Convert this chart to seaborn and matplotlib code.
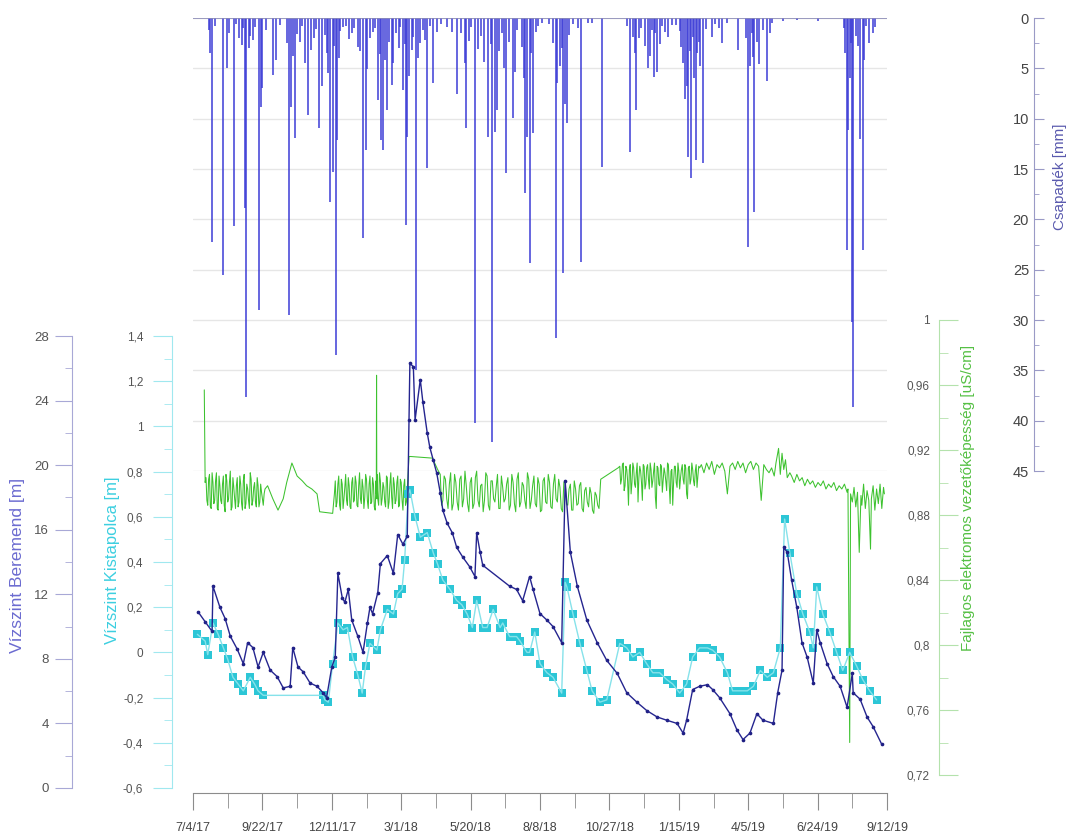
import numpy as np
import pandas as pd
import matplotlib
matplotlib.use('Agg')
import matplotlib.pyplot as plt
import seaborn as sns
from matplotlib.ticker import MultipleLocator, FuncFormatter

# ---- data (days counted from 2017-07-04)
start = pd.Timestamp('2017-07-04')
x_labels = ["7/4/17", "9/22/17", "12/11/17", "3/1/18", "5/20/18", "8/8/18",
            "10/27/18", "1/15/19", "4/5/19", "6/24/19", "9/12/19"]

# Csapadek [mm] - larger events
rain_day = [22, 35, 39, 47, 56, 60, 61, 76, 78, 80,
            92, 96, 111, 113, 118, 123, 133, 136, 145, 149,
            154, 158, 161, 165, 166, 173, 183, 190, 196, 199,
            210, 213, 217, 219, 224, 229, 231, 242, 246, 247,
            252, 257, 262, 270, 277, 293, 299, 304, 314, 315,
            325, 340, 345, 348, 350, 361, 369, 371, 383, 385,
            388, 392, 402, 418, 423, 427, 431, 447, 455, 471,
            504, 507, 511, 524, 531, 533, 535, 548, 552, 565,
            569, 571, 574, 576, 580, 581, 588, 598, 610, 628,
            640, 646, 647, 662, 665, 696, 754, 755, 760, 761,
            772, 773, 784]
rain_mm = [22.3, 25.5, 5.0, 20.7, 2.7, 18.9, 37.6, 29.0, 8.8, 7.0,
           5.7, 4.2, 29.5, 8.8, 11.9, 2.4, 9.6, 3.2, 10.9, 6.8,
           3.5, 18.3, 15.3, 33.5, 12.1, 0.9, 1.5, 2.9, 21.9, 13.1,
           1.0, 8.1, 12.1, 13.1, 9.1, 6.7, 4.5, 7.2, 20.6, 11.8,
           3.2, 35.0, 2.5, 14.9, 6.5, 0.9, 1.4, 7.5, 4.5, 10.9,
           40.2, 11.8, 42.1, 11.3, 9.1, 15.4, 9.9, 5.4, 17.4, 11.8,
           24.3, 11.4, 0.5, 31.8, 4.8, 25.3, 10.4, 24.2, 0.5, 14.8,
           13.3, 1.9, 9.1, 5.0, 5.9, 1.5, 5.4, 1.9, 0.7, 4.5,
           6.8, 13.8, 15.9, 1.9, 14.1, 3.5, 14.4, 1.9, 2.5, 3.2,
           22.7, 3.9, 19.3, 6.3, 1.5, 0.2, 23.0, 11.1, 30.2, 38.6,
           23.0, 4.2, 1.5]
# small daily amounts
rain_day_small = [18, 20, 25, 41, 50, 53, 58, 64, 66, 69,
                  72, 84, 100, 108, 115, 120, 126, 129, 139, 142,
                  152, 156, 163, 168, 170, 176, 180, 186, 193, 201,
                  204, 207, 215, 221, 226, 234, 237, 239, 244, 249,
                  254, 259, 265, 267, 273, 281, 286, 309, 318, 321,
                  328, 332, 336, 343, 353, 356, 358, 364, 374, 379,
                  381, 390, 395, 398, 410, 415, 420, 425, 429, 433,
                  438, 444, 460, 500, 509, 514, 517, 521, 527, 529,
                  538, 541, 544, 557, 561, 563, 567, 573, 578, 583,
                  585, 591, 602, 606, 615, 637, 642, 644, 650, 653,
                  657, 668, 680, 720, 750, 752, 757, 758, 764, 766,
                  769, 776, 779, 786]
rain_mm_small = [1.2, 3.5, 0.8, 1.5, 0.6, 2.0, 1.0, 3.0, 1.8, 2.2,
                 0.9, 1.2, 0.7, 2.5, 3.8, 1.6, 0.8, 4.5, 2.0, 1.1,
                 1.7, 5.5, 2.8, 4.0, 1.3, 0.8, 2.1, 1.0, 3.3, 5.1,
                 2.0, 1.4, 3.6, 4.2, 2.4, 1.5, 3.0, 0.9, 2.6, 5.8,
                 1.9, 4.0, 1.2, 2.2, 0.8, 1.4, 0.6, 1.5, 2.3, 0.9,
                 3.1, 1.8, 4.4, 2.6, 3.3, 1.5, 5.0, 2.4, 1.2, 2.9,
                 6.0, 3.5, 1.4, 0.8, 0.6, 2.5, 6.5, 3.0, 8.5, 1.7,
                 0.6, 1.0, 0.5, 0.8, 3.5, 2.0, 1.0, 2.8, 3.8, 1.2,
                 2.6, 0.8, 1.4, 0.7, 1.3, 2.9, 8.0, 3.3, 6.0, 2.4,
                 4.8, 1.1, 0.6, 1.0, 0.5, 2.0, 4.8, 1.5, 2.4, 4.6,
                 1.2, 0.5, 0.3, 0.3, 1.0, 3.5, 6.0, 2.5, 1.8, 2.8,
                 12.0, 0.8, 2.5, 0.9]

# Vizszint Beremend [m]
ber_day = [6, 14, 22, 23, 31, 37, 43, 51, 58, 63,
           69, 75, 81, 89, 97, 104, 112, 115, 121, 127,
           135, 143, 150, 154, 160, 164, 167, 172, 175, 179,
           183, 190, 196, 201, 204, 207, 213, 216, 224, 231,
           236, 242, 247, 249, 250, 254, 256, 262, 265, 270,
           273, 277, 281, 285, 288, 293, 299, 304, 311, 319,
           325, 327, 331, 334, 365, 373, 380, 388, 392, 400,
           408, 415, 425, 429, 435, 443, 454, 466, 477, 489,
           500, 512, 523, 535, 546, 558, 565, 569, 576, 584,
           593, 599, 607, 619, 627, 634, 642, 650, 657, 669,
           674, 679, 681, 685, 690, 696, 702, 708, 715, 719,
           723, 731, 738, 746, 754, 760, 761, 769, 777, 784,
           794]
ber_val = [10.9, 10.3, 9.7, 12.5, 11.2, 10.5, 9.4, 8.6, 7.7, 9.0,
           8.7, 7.5, 8.4, 7.3, 6.9, 6.2, 6.3, 8.7, 7.5, 7.2,
           6.5, 6.3, 5.9, 5.6, 7.5, 8.1, 13.3, 11.8, 11.5, 12.3,
           10.4, 9.4, 8.4, 10.2, 11.2, 10.8, 12.1, 13.9, 14.4, 13.3,
           15.7, 15.1, 15.6, 22.8, 26.3, 26.1, 22.8, 25.3, 23.9, 22.0,
           21.1, 20.3, 19.5, 18.3, 17.2, 16.4, 15.8, 14.9, 14.3, 13.7,
           13.1, 15.8, 14.6, 13.8, 12.5, 12.3, 11.6, 13.1, 12.3, 10.8,
           10.4, 10.0, 9.0, 19.0, 14.6, 12.5, 10.4, 9.0, 7.9, 7.1,
           5.9, 5.3, 4.8, 4.4, 4.2, 4.0, 3.4, 4.2, 6.1, 6.3,
           6.4, 6.1, 5.6, 4.6, 3.6, 3.0, 3.4, 4.6, 4.2, 4.0,
           5.9, 7.3, 14.9, 14.6, 12.9, 11.2, 9.0, 8.1, 6.5, 9.8,
           9.0, 7.7, 6.9, 6.3, 5.0, 7.1, 5.9, 5.5, 4.4, 3.8,
           2.7]

# Vizszint Kistapolca [m]
kis_day = [5, 14, 17, 23, 29, 35, 40, 46, 52, 58,
           66, 71, 75, 81, 150, 152, 156, 161, 167, 173,
           178, 184, 190, 195, 199, 204, 212, 216, 224, 231,
           236, 241, 244, 248, 250, 256, 262, 270, 277, 282,
           288, 296, 304, 310, 316, 322, 327, 334, 339, 346,
           354, 357, 365, 373, 377, 385, 388, 394, 400, 408,
           415, 425, 429, 431, 438, 446, 454, 460, 469, 477,
           492, 500, 507, 515, 523, 530, 538, 546, 553, 561,
           569, 576, 584, 593, 599, 607, 616, 622, 631, 639,
           646, 654, 662, 669, 677, 682, 688, 696, 703, 711,
           715, 719, 726, 734, 742, 749, 757, 765, 772, 780,
           788]
kis_val = [0.08, 0.05, -0.01, 0.13, 0.08, 0.02, -0.03, -0.11, -0.14, -0.17,
           -0.11, -0.14, -0.17, -0.19, -0.19, -0.21, -0.22, -0.05, 0.13, 0.10,
           0.11, -0.02, -0.10, -0.18, -0.06, 0.04, 0.01, 0.10, 0.19, 0.17,
           0.26, 0.28, 0.41, 0.70, 0.72, 0.60, 0.51, 0.53, 0.44, 0.39,
           0.32, 0.28, 0.23, 0.21, 0.17, 0.11, 0.23, 0.11, 0.11, 0.19,
           0.11, 0.13, 0.07, 0.07, 0.05, 0.00, 0.00, 0.09, -0.05, -0.09,
           -0.11, -0.18, 0.31, 0.29, 0.17, 0.04, -0.08, -0.17, -0.22, -0.21,
           0.04, 0.02, -0.02, 0.00, -0.05, -0.09, -0.09, -0.12, -0.14, -0.18,
           -0.14, -0.02, 0.02, 0.02, 0.01, -0.02, -0.09, -0.17, -0.17, -0.17,
           -0.15, -0.08, -0.11, -0.09, 0.02, 0.59, 0.44, 0.26, 0.17, 0.09,
           0.02, 0.29, 0.17, 0.09, 0.00, -0.08, 0.00, -0.06, -0.12, -0.17,
           -0.21]

# Fajlagos elektromos vezetokepesseg - pieces of the record
cond_start_day = [13, 14]
cond_start_val = [0.957, 0.900]
cond_a = [0.903, 0.886, 0.905, 0.884, 0.900, 0.889, 0.906, 0.883, 0.898, 0.887,
          0.904, 0.882, 0.901, 0.890, 0.907, 0.885, 0.897, 0.884, 0.903, 0.888,
          0.899, 0.883, 0.905, 0.887, 0.896, 0.884, 0.902, 0.889, 0.900, 0.885,
          0.898, 0.888, 0.894, 0.886, 0.896]           # days 15-83
cond_a_mid = [0.889, 0.902, 0.885, 0.906, 0.887, 0.901, 0.884, 0.904, 0.889, 0.899,
              0.886, 0.905, 0.888, 0.900, 0.883, 0.903, 0.890, 0.898, 0.885, 0.904,
              0.887, 0.901, 0.884, 0.899, 0.889, 0.906, 0.886, 0.897, 0.888, 0.903,
              0.885, 0.899, 0.890, 0.893]               # days 16-82
cond_b_day = [86, 92, 98, 104, 108, 114, 120, 126, 131, 137, 143, 146, 161]
cond_b_val = [0.898, 0.890, 0.883, 0.890, 0.900, 0.912, 0.904, 0.901, 0.898,
              0.896, 0.893, 0.882, 0.881]
cond_c = [0.893, 0.885, 0.899, 0.886, 0.902, 0.884, 0.897, 0.889, 0.903, 0.885,
          0.900, 0.888, 0.904, 0.886, 0.898, 0.890, 0.902, 0.884, 0.905, 0.889,
          0.899, 0.887, 0.903, 0.885, 0.901, 0.890, 0.906, 0.886, 0.900, 0.888,
          0.904, 0.884, 0.899, 0.891, 0.903, 0.887, 0.900, 0.885, 0.902, 0.889,
          0.898, 0.886, 0.896]                          # days 163-247
cond_c_mid = [0.901, 0.888, 0.904, 0.883, 0.899, 0.890, 0.905, 0.886, 0.898, 0.884,
              0.903, 0.889, 0.900, 0.885, 0.906, 0.887, 0.897, 0.891, 0.902, 0.884,
              0.904, 0.888, 0.899, 0.883, 0.905, 0.886, 0.901, 0.890, 0.897, 0.885,
              0.903, 0.888, 0.906, 0.884, 0.899, 0.889, 0.904, 0.886, 0.900, 0.883,
              0.902, 0.888]                             # days 164-246
cond_spike_day = [211.3, 211.6, 211.9]
cond_spike_val = [0.893, 0.966, 0.890]
cond_d_day = [249, 251, 276, 282]
cond_d_val = [0.916, 0.916, 0.915, 0.908]
cond_e = [0.905, 0.889, 0.902, 0.884, 0.906, 0.887, 0.900, 0.883, 0.904, 0.890,
          0.898, 0.882, 0.903, 0.887, 0.907, 0.885, 0.899, 0.889, 0.904, 0.883,
          0.901, 0.888, 0.905, 0.884, 0.897, 0.890, 0.903, 0.886, 0.900, 0.882,
          0.906, 0.888, 0.898, 0.884, 0.902, 0.889, 0.904, 0.885, 0.899, 0.883,
          0.903, 0.887, 0.900, 0.884, 0.905, 0.888, 0.897, 0.882, 0.901, 0.886,
          0.899, 0.883, 0.896, 0.887, 0.900, 0.882, 0.897, 0.885, 0.893, 0.881,
          0.892, 0.884]                                 # days 285-468
cond_e_mid = [0.886, 0.904, 0.890, 0.899, 0.883, 0.905, 0.888, 0.902, 0.885, 0.907,
              0.887, 0.900, 0.884, 0.903, 0.889, 0.898, 0.882, 0.906, 0.886, 0.901,
              0.890, 0.897, 0.884, 0.904, 0.888, 0.899, 0.883, 0.905, 0.887, 0.902,
              0.885, 0.900, 0.889, 0.906, 0.884, 0.898, 0.887, 0.903, 0.882, 0.901,
              0.888, 0.905, 0.885, 0.899, 0.890, 0.902, 0.884, 0.900, 0.887, 0.896,
              0.883, 0.901, 0.886, 0.898, 0.884, 0.895, 0.888, 0.897, 0.883, 0.894,
              0.886]                                    # days 286.5-466.5
cond_f_day = [470, 490]
cond_f_val = [0.902, 0.909]
cond_g = [0.910, 0.902, 0.912, 0.898, 0.908, 0.886, 0.911, 0.900, 0.909, 0.897,
          0.912, 0.903, 0.907, 0.889, 0.910, 0.899, 0.911, 0.896, 0.908, 0.901,
          0.912, 0.884, 0.909, 0.898, 0.910, 0.902, 0.906, 0.895, 0.911, 0.887,
          0.908, 0.900, 0.910, 0.897, 0.907, 0.903, 0.911, 0.899, 0.909, 0.890,
          0.910, 0.902, 0.908, 0.898, 0.911, 0.904, 0.909]   # days 492-584
cond_g_mid = [0.899, 0.911, 0.895, 0.910, 0.901, 0.908, 0.893, 0.912, 0.899, 0.906,
              0.888, 0.910, 0.900, 0.911, 0.896, 0.909, 0.902, 0.912, 0.897, 0.907,
              0.891, 0.910, 0.899, 0.911, 0.894, 0.909, 0.901, 0.912, 0.898, 0.907,
              0.886, 0.910, 0.900, 0.912, 0.896, 0.908, 0.902, 0.911, 0.893, 0.909,
              0.899, 0.912, 0.901, 0.907, 0.897, 0.910]  # days 493-583
cond_h = [0.911, 0.906, 0.912, 0.908, 0.913, 0.905, 0.911, 0.909, 0.912, 0.907,
          0.893, 0.910, 0.912, 0.908, 0.913, 0.909, 0.912, 0.906, 0.911, 0.913,
          0.908, 0.912, 0.910, 0.889, 0.911, 0.908, 0.906, 0.909, 0.904]  # 586-670
cond_i_day = [672, 675, 677, 679, 681, 683, 685, 688]
cond_i_val = [0.912, 0.921, 0.905, 0.918, 0.908, 0.914, 0.903, 0.906]
cond_j = [0.904, 0.900, 0.905, 0.901, 0.903, 0.898, 0.902, 0.899, 0.901, 0.897,
          0.900, 0.898, 0.901, 0.896, 0.899, 0.897, 0.900, 0.895, 0.898, 0.896,
          0.899, 0.894]                                 # days 690-754
cond_k_day = [755, 757, 758, 760, 762, 764, 766, 768, 770, 771, 773, 775,
              777, 779, 781, 782, 784, 786, 788, 790, 792, 794, 796, 797]
cond_k_val = [0.896, 0.740, 0.893, 0.888, 0.897, 0.885, 0.894, 0.857, 0.892,
              0.886, 0.899, 0.884, 0.895, 0.889, 0.859, 0.890, 0.898, 0.883,
              0.896, 0.887, 0.899, 0.884, 0.897, 0.893]


def spread(first, last, values):
    return list(np.linspace(first, last, len(values)))


cond_days = (cond_start_day + spread(15, 83, cond_a) + spread(16, 82, cond_a_mid)
             + cond_b_day + spread(163, 247, cond_c) + spread(164, 246, cond_c_mid)
             + cond_spike_day + cond_d_day + spread(285, 468, cond_e)
             + spread(286.5, 466.5, cond_e_mid) + cond_f_day
             + spread(492, 584, cond_g) + spread(493, 583, cond_g_mid)
             + spread(586, 670, cond_h) + cond_i_day
             + spread(690, 754, cond_j) + cond_k_day)
cond_vals = (cond_start_val + cond_a + cond_a_mid + cond_b_val + cond_c + cond_c_mid
             + cond_spike_val + cond_d_val + cond_e + cond_e_mid + cond_f_val
             + cond_g + cond_g_mid + cond_h + cond_i_val + cond_j + cond_k_val)
df_cond = pd.DataFrame({'day': cond_days, 'val': cond_vals}).sort_values('day', kind='stable')
df_ber = pd.DataFrame({'day': ber_day, 'val': ber_val})
df_kis = pd.DataFrame({'day': kis_day, 'val': kis_val})

tick_days = [(pd.to_datetime(s, format='%m/%d/%y') - start).days for s in x_labels]

# ---- figure
sns.set_style('ticks')
plt.rcParams['font.family'] = ['Liberation Sans', 'DejaVu Sans']

W, H = 1071, 834
fig = plt.figure(figsize=(W / 100, H / 100), dpi=100)


def box(x0, y0, x1, y1):
    return [x0 / W, 1 - y1 / H, (x1 - x0) / W, (y1 - y0) / H]


X0, X1 = 193, 887
ax_p = fig.add_axes(box(X0, 18, X1, 471))
ax_c = fig.add_axes(box(X0, 320, X1, 775))
ax_k = fig.add_axes(box(X0, 336, X1, 788))
ax_b = fig.add_axes(box(X0, 336, X1, 788))


def comma(v, pos=None):
    v = round(v, 4) + 0.0
    return f'{v:g}'.replace('.', ',')


# precipitation (hanging bars)
ax_p.vlines(rain_day + rain_day_small, 0, rain_mm + rain_mm_small, color='#3c3cd6', lw=1.1)
ax_p.axhline(0, color='#8c8cb8', lw=1.2)

# conductivity
sns.lineplot(data=df_cond, x='day', y='val', ax=ax_c, sort=False, estimator=None,
             color='#3dc22f', lw=0.75, legend=False)

# Kistapolca
sns.lineplot(data=df_kis, x='day', y='val', ax=ax_k, sort=False, estimator=None,
             color='#86e2ea', lw=1.0, legend=False)
sns.scatterplot(data=df_kis, x='day', y='val', ax=ax_k, marker='s', s=26,
                color='#2cc6d6', linewidth=0, legend=False)

# Beremend
sns.lineplot(data=df_ber, x='day', y='val', ax=ax_b, sort=False, estimator=None,
             color='#25258f', lw=1.0, legend=False)
sns.scatterplot(data=df_ber, x='day', y='val', ax=ax_b, marker='o', s=7,
                color='#1c1c80', linewidth=0, legend=False)

for ax in (ax_p, ax_c, ax_k, ax_b):
    ax.set_xlim(0, 800)
    for s in ax.spines.values():
        s.set_visible(False)
    ax.tick_params(axis='x', which='both', bottom=False, labelbottom=False)
    ax.set_xlabel('')
    ax.set_ylabel('')
    ax.patch.set_alpha(0)

frac = lambda px: (px - X0) / (X1 - X0)

# precipitation axis (right, inverted)
ax_p.set_ylim(45, 0)
ax_p.yaxis.set_major_locator(MultipleLocator(5))
ax_p.yaxis.set_minor_locator(MultipleLocator(2.5))
ax_p.yaxis.grid(True, color='#e6e6e6', lw=1)
ax_p.set_axisbelow(True)
ax_p.spines['left'].set_visible(True)
ax_p.spines['left'].set_position(('axes', frac(1034)))
ax_p.spines['left'].set_color('#9a9ac6')
ax_p.tick_params(axis='y', which='both', direction='in', color='#9a9ac6',
                 labelcolor='#444444', labelsize=10.5, pad=3.6)
ax_p.tick_params(axis='y', which='major', length=7.2)
ax_p.tick_params(axis='y', which='minor', length=3.6)

# conductivity axis
ax_c.set_ylim(0.72, 1.0)
ax_c.yaxis.set_major_locator(MultipleLocator(0.04))
ax_c.yaxis.set_minor_locator(MultipleLocator(0.02))
ax_c.yaxis.set_major_formatter(FuncFormatter(comma))
ax_c.spines['left'].set_visible(True)
ax_c.spines['left'].set_position(('axes', frac(939)))
ax_c.spines['left'].set_color('#b4e2ac')
ax_c.tick_params(axis='y', which='both', direction='in', color='#b4e2ac',
                 labelcolor='#555555', labelsize=8.5, pad=6.5)
ax_c.tick_params(axis='y', which='major', length=13.7)
ax_c.tick_params(axis='y', which='minor', length=6.5)

# Kistapolca axis
ax_k.set_ylim(-0.6, 1.4)
ax_k.yaxis.set_major_locator(MultipleLocator(0.2))
ax_k.yaxis.set_minor_locator(MultipleLocator(0.1))
ax_k.yaxis.set_major_formatter(FuncFormatter(comma))
ax_k.spines['left'].set_visible(True)
ax_k.spines['left'].set_position(('axes', frac(172)))
ax_k.spines['left'].set_color('#a0e8ef')
ax_k.tick_params(axis='y', which='both', direction='out', color='#a0e8ef',
                 labelcolor='#555555', labelsize=8.5, pad=7.0)
ax_k.tick_params(axis='y', which='major', length=13.7)
ax_k.tick_params(axis='y', which='minor', length=5.8)

# Beremend axis + time axis
ax_b.set_ylim(0, 28)
ax_b.yaxis.set_major_locator(MultipleLocator(4))
ax_b.yaxis.set_minor_locator(MultipleLocator(2))
ax_b.spines['left'].set_visible(True)
ax_b.spines['left'].set_position(('axes', frac(72)))
ax_b.spines['left'].set_color('#a8a8d6')
ax_b.tick_params(axis='y', which='both', direction='out', color='#a8a8d6',
                 labelcolor='#555555', labelsize=9.5, pad=4.3)
ax_b.tick_params(axis='y', which='major', length=12.2)
ax_b.tick_params(axis='y', which='minor', length=5.0)

ax_b.spines['bottom'].set_visible(True)
ax_b.spines['bottom'].set_position(('outward', 3.6))
ax_b.spines['bottom'].set_color('#8c8c8c')
ax_b.set_xticks(tick_days, x_labels)
ax_b.xaxis.set_minor_locator(MultipleLocator(40))
ax_b.tick_params(axis='x', which='both', bottom=True, labelbottom=True, direction='out',
                 color='#8c8c8c', labelcolor='#444444', labelsize=9, pad=9)
ax_b.tick_params(axis='x', which='major', length=12)
ax_b.tick_params(axis='x', which='minor', length=10.8)


def side_label(px, py, text, color, size):
    fig.text(px / W, 1 - py / H, text, rotation=90, ha='center', va='center',
             color=color, fontsize=size)


side_label(18, 565, 'Vízszint Beremend [m]', '#6b6bd0', 12.5)
side_label(113, 560, 'Vízszint Kistapolca [m]', '#3ccfe0', 12)
side_label(968, 498, 'Fajlagos elektromos vezetőképesség [uS/cm]', '#55c044', 11)
side_label(1060, 177, 'Csapadék [mm]', '#5a5aae', 11)

fig.savefig('out.png', dpi=100)
